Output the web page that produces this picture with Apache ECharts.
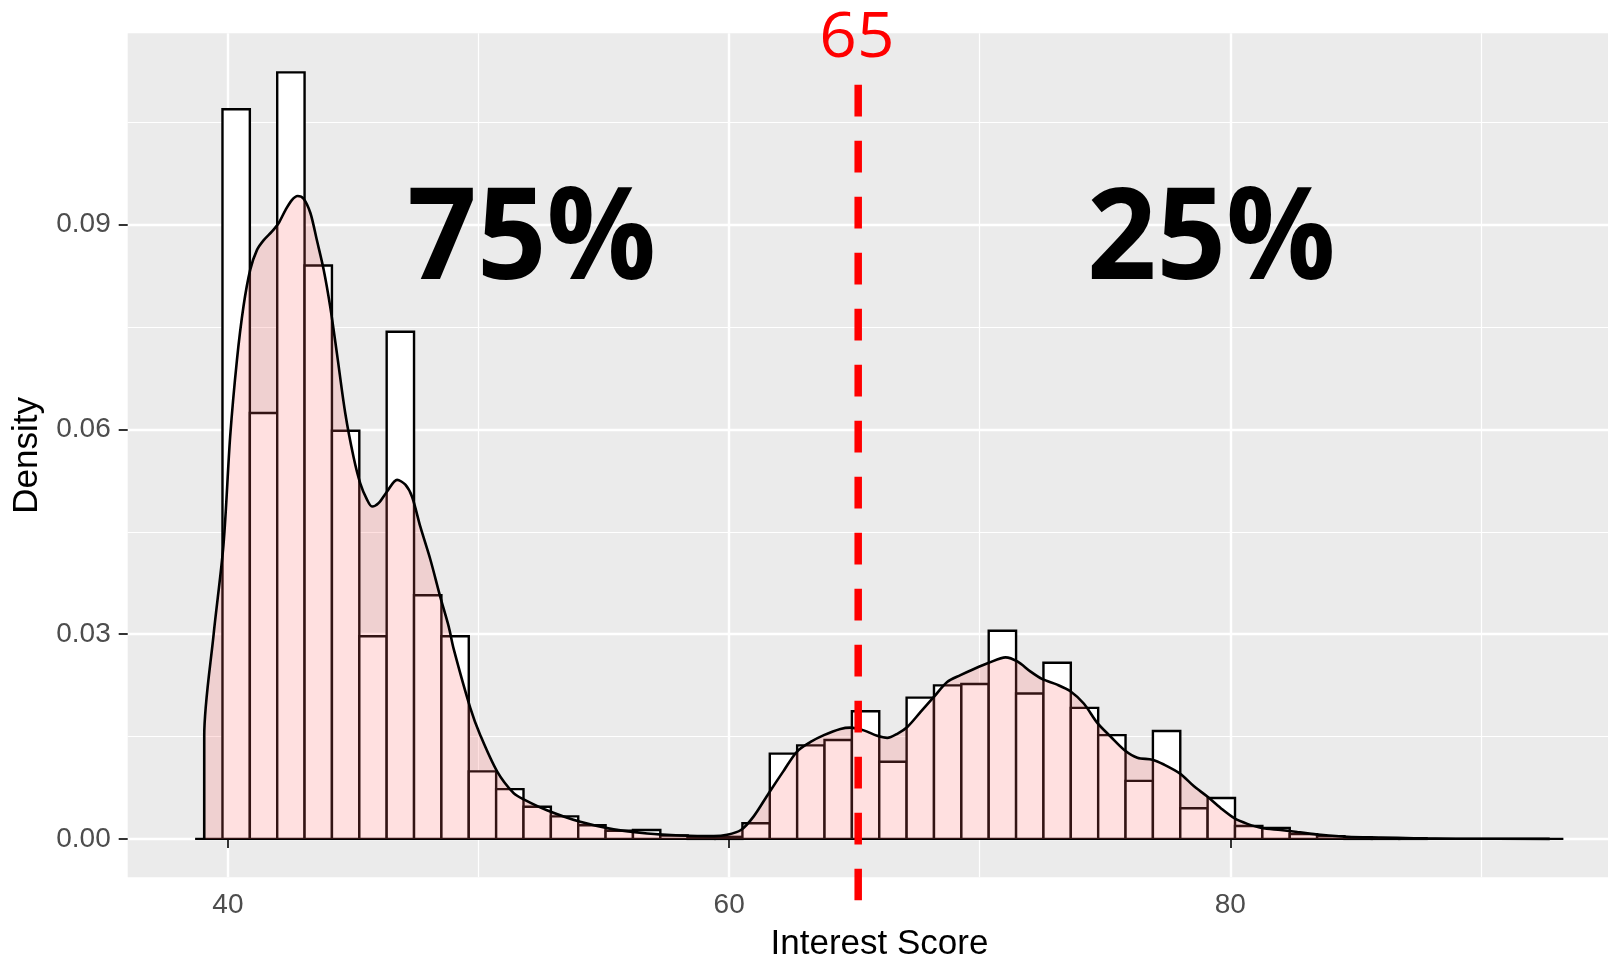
<!DOCTYPE html>
<html><head><meta charset="utf-8">
<script src="https://cdn.jsdelivr.net/npm/echarts@6/dist/echarts.min.js"></script>
<style>html,body{margin:0;padding:0;background:#fff}#c{width:1608px;height:957px}</style>
</head><body><div id="c"></div>
<script>
// ---- data ----
const binStart = 38.69;
const binWidth = 1.092;
const histDensity = [
  0, 0.1069, 0.0624, 0.1123, 0.0840, 0.0598, 0.0297, 0.0743, 0.0357, 0.0297,
  0.0099, 0.0073, 0.0047, 0.0033, 0.0020, 0.0012, 0.0013, 0.0005, 0.0003, 0.0003,
  0.0023, 0.0125, 0.0137, 0.0145, 0.0187, 0.0113, 0.0207, 0.0225, 0.0227, 0.0305,
  0.0213, 0.0258, 0.0192, 0.0152, 0.0085, 0.0158, 0.0045, 0.0060, 0.0019, 0.0016,
  0.0007, 0.0004, 0.0002, 0.0001, 0.0001, 0, 0, 0, 0, 0
];
const densityX = [
  39.054, 39.054, 39.43, 39.82, 40.09, 40.36, 40.62, 40.89, 41.16, 41.42,
  41.76, 42.02, 42.29, 42.55, 42.78, 43.02, 43.29, 43.55, 43.82, 44.08,
  44.35, 44.68, 45.01, 45.28, 45.55, 45.75, 46.01, 46.35, 46.75, 47.08,
  47.35, 47.68, 48.08, 48.47, 48.81, 49.01, 49.67, 50.07, 50.74, 51.40,
  51.80, 52.73, 54.06, 55.39, 56.73, 58.06, 59.39, 59.92, 60.47, 60.98,
  61.58, 62.18, 62.71, 63.25, 63.78, 64.44, 64.84, 65.37, 65.91, 66.31,
  66.71, 67.11, 67.64, 68.17, 68.70, 69.23, 69.77, 70.36, 71.03, 71.50,
  72.03, 72.50, 73.09, 73.63, 74.16, 74.69, 75.22, 75.78, 76.29, 76.89,
  77.35, 77.98, 78.55, 79.08, 79.62, 80.17, 80.68, 81.25, 82.01, 82.68,
  83.61, 84.67, 86.00, 87.33, 89.00, 92.745
];
const densityY = [
  0, 0.0151, 0.0300, 0.0430, 0.0590, 0.0702, 0.0780, 0.0834, 0.0863, 0.0877,
  0.0890, 0.0902, 0.0921, 0.0936, 0.0942, 0.0938, 0.0917, 0.0877, 0.0834, 0.0780,
  0.0711, 0.0624, 0.0560, 0.0521, 0.0497, 0.0487, 0.0492, 0.0509, 0.0526, 0.0519,
  0.0501, 0.0457, 0.0409, 0.0355, 0.0311, 0.0278, 0.0192, 0.0152, 0.0099, 0.0067,
  0.0058, 0.0042, 0.0025, 0.0014, 0.0008, 0.0005, 0.0004, 0.0006, 0.0013, 0.0033,
  0.0067, 0.0100, 0.0128, 0.0142, 0.0152, 0.0161, 0.0163, 0.0159, 0.0151, 0.0148,
  0.0154, 0.0164, 0.0186, 0.0208, 0.0230, 0.0240, 0.0249, 0.0258, 0.0266, 0.0260,
  0.0245, 0.0234, 0.0226, 0.0216, 0.0198, 0.0170, 0.0150, 0.0130, 0.0119, 0.0116,
  0.0109, 0.0096, 0.0077, 0.0062, 0.0045, 0.0030, 0.0022, 0.0016, 0.0013, 0.0010,
  0.0006, 0.0003, 0.0002, 0.0001, 0.00003, 0
];
const xMajorTicks = [40, 60, 80];
const xMinorTicks = [50, 70, 90];
const yMajorTicks = [0, 0.03, 0.06, 0.09];
const yMinorTicks = [0.015, 0.045, 0.075, 0.105];
const cutoffValue = 65.15;
const cutoffLabel = '65';
const cutoffLabelX = 65.1;
const cutoffLabelY = 0.1171;
const cutoffSpan = [0.1105, -0.0090];
const shareLabels = ['75%', '25%'];
const shareX = [52.12, 79.24];
const shareY = [0.0874, 0.0874];
const xTitle = 'Interest Score';
const yTitle = 'Density';

// ---- build ----
const X_MIN = 36.0, X_MAX = 96.0, Y_MIN = -0.005626, Y_MAX = 0.11803;
const barData = histDensity.map((h, i) => [binStart + i * binWidth, binStart + (i + 1) * binWidth, h]);
const densityData = densityX.map((x, i) => [x, densityY[i]]);
const labelFont = 'Liberation Sans, Arial, sans-serif';
const textData = [
  [cutoffLabelX, cutoffLabelY, cutoffLabel, 'normal', 62, '#FF0000', 1.06],
  [shareX[0], shareY[0], shareLabels[0], 'bold', 128, '#000000', 0.95],
  [shareX[1], shareY[1], shareLabels[1], 'bold', 128, '#000000', 0.95]
];

const chart = echarts.init(document.getElementById('c'), null, {renderer: 'canvas'});
chart.setOption({
  animation: false,
  backgroundColor: '#ffffff',
  grid: {left: 127.7, top: 33.3, right: -23.3, bottom: 79.7, show: true,
         backgroundColor: '#EBEBEB', borderWidth: 0, containLabel: false,
         outerBoundsMode: 'none'},
  xAxis: [{
    type: 'value', min: X_MIN, max: X_MAX,
    axisLine: {show: false},
    axisTick: {show: true, customValues: xMajorTicks, length: 9, lineStyle: {color: '#333333', width: 2}},
    axisLabel: {customValues: xMajorTicks, margin: 14, fontSize: 28, color: '#4D4D4D', fontFamily: labelFont},
    splitLine: {show: true, lineStyle: {color: '#FFFFFF', width: 2.4}},
    name: xTitle, nameLocation: 'middle', nameGap: 50,
    nameTextStyle: {fontSize: 35, color: '#000', fontFamily: labelFont}
  }, {
    type: 'value', min: X_MIN, max: X_MAX, position: 'bottom',
    axisLine: {show: false},
    axisTick: {show: false, customValues: xMinorTicks},
    axisLabel: {show: false},
    splitLine: {show: true, lineStyle: {color: '#FFFFFF', width: 1.2}}
  }],
  yAxis: [{
    type: 'value', min: Y_MIN, max: Y_MAX,
    axisLine: {show: false},
    axisTick: {show: true, customValues: yMajorTicks, length: 9, lineStyle: {color: '#333333', width: 2}},
    axisLabel: {customValues: yMajorTicks, margin: 17, fontSize: 28, color: '#4D4D4D', fontFamily: labelFont,
                formatter: v => v.toFixed(2)},
    splitLine: {show: true, lineStyle: {color: '#FFFFFF', width: 2.4}},
    name: yTitle, nameLocation: 'middle', nameGap: 74, nameRotate: 90,
    nameTextStyle: {fontSize: 35, color: '#000', fontFamily: labelFont}
  }, {
    type: 'value', min: Y_MIN, max: Y_MAX, position: 'left',
    axisLine: {show: false},
    axisTick: {show: false, customValues: yMinorTicks},
    axisLabel: {show: false},
    splitLine: {show: true, lineStyle: {color: '#FFFFFF', width: 1.2}}
  }],
  series: [
    {
      type: 'custom', name: 'hist', z: 2, clip: false,
      data: barData,
      renderItem: (params, api) => {
        const p0 = api.coord([api.value(0), 0]);
        const p1 = api.coord([api.value(1), api.value(2)]);
        return {type: 'rect',
          shape: {x: p0[0], y: p1[1], width: p1[0] - p0[0], height: p0[1] - p1[1]},
          style: {fill: '#FFFFFF', stroke: '#000000', lineWidth: 2.4}};
      }
    },
    {
      type: 'line', name: 'density', z: 3, data: densityData,
      showSymbol: false, symbol: 'none', smooth: 0.3,
      lineStyle: {color: '#000000', width: 2.6},
      areaStyle: {color: 'rgba(255,102,102,0.2)', opacity: 1, origin: 0}
    },
    {
      type: 'custom', name: 'cutoff', z: 4, clip: false,
      data: [[cutoffValue, cutoffSpan[0], cutoffSpan[1]]],
      renderItem: (params, api) => {
        const a = api.coord([api.value(0), api.value(1)]);
        const b = api.coord([api.value(0), api.value(2)]);
        return {type: 'line', shape: {x1: a[0], y1: a[1], x2: b[0], y2: b[1]},
          style: {stroke: '#FF0000', lineWidth: 7.5, lineDash: [31.7, 24.3], lineCap: 'butt'}};
      }
    },
    {
      type: 'custom', name: 'labels', z: 5, clip: false, silent: true,
      data: textData,
      renderItem: (params, api) => {
        const d = textData[params.dataIndex];
        const p = api.coord([d[0], d[1]]);
        return {type: 'text', x: p[0], y: p[1], scaleX: d[6], scaleY: 1,
          style: {text: d[2], x: 0, y: 0, align: 'center', verticalAlign: 'middle',
            fill: d[5], fontSize: d[4], fontWeight: d[3], fontFamily: 'Open Sans, sans-serif'}};
      }
    }
  ]
});
</script></body></html>
